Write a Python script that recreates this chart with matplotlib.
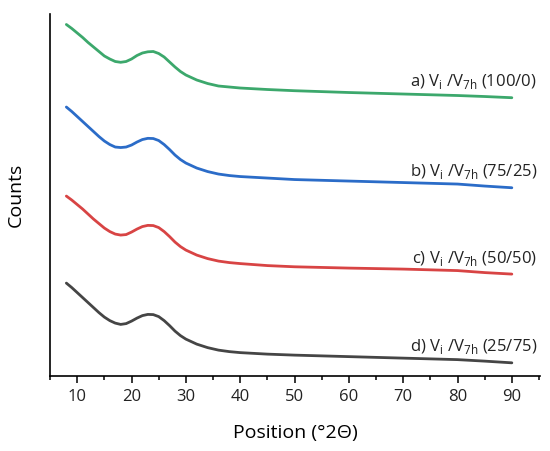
import matplotlib
matplotlib.use("Agg")
import matplotlib.pyplot as plt
from matplotlib.ticker import MultipleLocator

plt.rcParams['font.family'] = ['Open Sans', 'DejaVu Sans']
plt.rcParams['mathtext.fontset'] = 'custom'
plt.rcParams['mathtext.rm'] = 'Open Sans'

# 2-theta positions
two_theta = [8, 9, 10, 11, 12, 13, 14, 15, 16, 17, 18, 19, 20, 21, 22, 23,
             24, 25, 26, 27, 28, 29, 30, 32, 34, 36, 38, 40, 45, 50, 60, 70,
             80, 85, 90]

# counts (arbitrary units, stacked as in the figure)
counts_a = [3515, 3475, 3430, 3385, 3335, 3290, 3245, 3200, 3170, 3145, 3137,
            3145, 3170, 3205, 3230, 3242, 3245, 3225, 3190, 3140, 3090, 3045,
            3010, 2960, 2925, 2900, 2890, 2880, 2865, 2853, 2835, 2820, 2805,
            2795, 2783]
counts_b = [2690, 2645, 2595, 2545, 2495, 2445, 2395, 2350, 2315, 2290, 2285,
            2290, 2310, 2340, 2365, 2377, 2375, 2355, 2315, 2265, 2210, 2165,
            2130, 2080, 2045, 2020, 2005, 1995, 1980, 1965, 1950, 1935, 1920,
            1900, 1883]
counts_c = [1800, 1760, 1715, 1670, 1620, 1570, 1525, 1480, 1445, 1420, 1410,
            1415, 1440, 1470, 1495, 1507, 1505, 1485, 1445, 1395, 1340, 1295,
            1260, 1210, 1175, 1150, 1135, 1125, 1105, 1093, 1080, 1070, 1055,
            1035, 1020]
counts_d = [930, 885, 835, 785, 735, 685, 635, 590, 555, 530, 517,
            525, 550, 580, 605, 617, 615, 595, 555, 505, 450, 405,
            370, 320, 285, 260, 245, 235, 220, 210, 195, 180, 165,
            150, 133]

labels = [r'a) V$_\mathrm{i}$ /V$_\mathrm{7h}$ (100/0)',
          r'b) V$_\mathrm{i}$ /V$_\mathrm{7h}$ (75/25)',
          r'c) V$_\mathrm{i}$ /V$_\mathrm{7h}$ (50/50)',
          r'd) V$_\mathrm{i}$ /V$_\mathrm{7h}$ (25/75)']
colors = ['#3ca86c', '#2b6cc8', '#d84444', '#454545']
series = [counts_a, counts_b, counts_c, counts_d]

fig = plt.figure(figsize=(5.5, 4.51), dpi=100)
ax = fig.add_axes([0.091, 0.166, 0.891, 0.803])

for y, c, lab in zip(series, colors, labels):
    ax.plot(two_theta, y, color=c, lw=2.0, solid_joinstyle='round',
            solid_capstyle='round')
    ax.annotate(lab, xy=(two_theta[-1], y[-1]), xytext=(18, 11.5),
                textcoords='offset points', ha='right', va='center',
                fontsize=12, color='#222222')

ax.set_xlim(5, 95.2)
ax.set_ylim(0, 3620)
ax.xaxis.set_major_locator(MultipleLocator(10))
ax.xaxis.set_minor_locator(MultipleLocator(5))
ax.set_xticks(range(10, 100, 10))
ax.tick_params(axis='x', which='major', length=5, width=1.1, labelsize=12,
               pad=4, labelcolor='#222222')
ax.tick_params(axis='x', which='minor', length=3, width=1.1)
ax.set_yticks([])
for s in ['top', 'right']:
    ax.spines[s].set_visible(False)
for s in ['left', 'bottom']:
    ax.spines[s].set_linewidth(1.2)

ax.set_xlabel('Position (°2Θ)', fontsize=14, labelpad=14)
ax.set_ylabel('Counts', fontsize=14, labelpad=18)

fig.savefig('out.png', dpi=100)
